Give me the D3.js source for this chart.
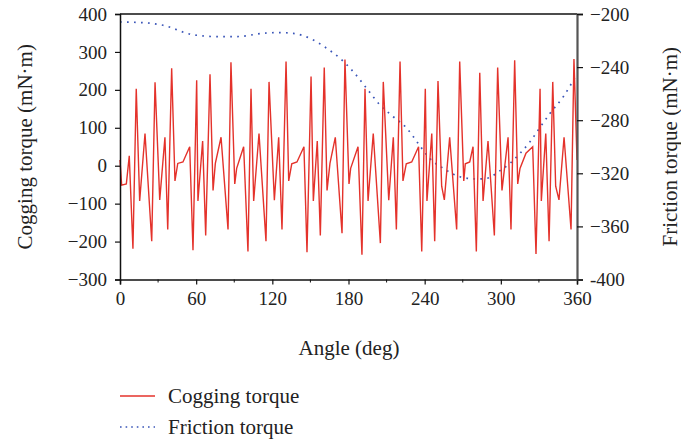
<!DOCTYPE html>
<html>
<head>
<meta charset="utf-8">
<script src="https://cdn.jsdelivr.net/npm/d3@7"></script>
<style>
  body { margin: 0; background: #fff; }
  svg text { font-family: "Liberation Serif", "DejaVu Serif", serif; fill: #222; }
</style>
</head>
<body>
<svg id="chart"></svg>
<script>
// cogging torque (deg, mN·m)
const coggingAngle = [0,1.3,5,7.3,10.2,12.8,15.5,19.7,25,27.6,31.3,35.4,37.6,40.7,43.3,45.5,49.6,54.9,57.5,60.4,61.4,65.1,67.5,70.9,73.3,75.1,79.6,85.1,87.4,90.4,91.9,97.4,100.8,103.2,105.3,109.5,115,117.4,121.6,125,127.6,130.8,132.9,135.3,139.4,144.9,147.3,150.5,152.3,155.4,157.8,160.9,163.1,165.4,169.6,174.9,177.2,180.4,181.7,187.5,190.6,193,195.4,199.5,205.1,207.4,211.7,215.3,217.7,220.6,222.9,225.5,229.8,235.2,237.7,240.5,241.8,245.6,247.9,250.5,253.4,255.5,259.7,265.2,267.6,270.8,272,275.5,278.1,280.7,283.4,286,289.9,294.9,297.5,300.9,305.7,308,310.9,313.3,315.1,319.8,325.1,327.7,330.9,331.9,335.4,338,340.9,343.2,345.8,349.8,355.3,357.6,360];
const coggingValue = [15,-51,-48,26,-219,203,-93,85,-199,220,-90,75,-168,257,-40,6,10,50,-223,225,-93,65,-184,241,-65,6,75,-168,273,-48,-7,50,-226,203,-93,85,-199,221,-91,75,-168,275,-40,5,10,50,-228,235,-93,65,-184,259,-65,6,75,-178,280,-48,-7,50,-235,203,-93,85,-204,221,-91,75,-168,275,-40,5,10,50,-226,203,-93,85,-199,223,-54,-90,75,-168,275,-40,5,10,50,-226,245,-93,65,-184,259,-65,75,-168,278,-48,-7,33,50,-233,203,-93,85,-199,221,-54,-90,75,-168,281,15];

// friction torque (right axis)
const frictionAngle = [0,18,34,57.5,78.8,92,115.6,126,136.5,152.3,162.8,173.3,183.8,194.3,204.8,215.3,225.9,236,244.2,254.7,267.8,281,288.9,299.4,307.2,315.1,323,330.9,338.8,349.2,360];
const frictionValue = [-206,-206.5,-208.5,-215.6,-217.1,-217,-214.3,-214,-214.6,-219.6,-225.8,-233.4,-243.5,-256,-268.5,-277.4,-286,-299,-309,-316.3,-322.6,-324.3,-323.8,-318,-312.5,-305,-296.2,-285.4,-274.8,-262.3,-245];

const xTicks = [0,60,120,180,240,300,360];
const leftTicks = [-300,-200,-100,0,100,200,300,400];
const rightTicks = [-400,-360,-320,-280,-240,-200];

const W = 681, H = 441;
const margin = {left:120, right:104, top:14, bottom:161.5};
const red = "#e4322b", blue = "#3a55b8";

const svg = d3.select("#chart").attr("width",W).attr("height",H);

const x = d3.scaleLinear().domain([0,360]).range([margin.left, W-margin.right]);
const yL = d3.scaleLinear().domain([-300,400]).range([H-margin.bottom, margin.top]);
const yR = d3.scaleLinear().domain([-400,-200]).range([H-margin.bottom, margin.top]);

const cogging = coggingAngle.map((a,i)=>({a:a, v:coggingValue[i]}));
const friction = frictionAngle.map((a,i)=>({a:a, v:frictionValue[i]}));

// frame top line
svg.append("line")
  .attr("x1",x(0)).attr("x2",x(360))
  .attr("y1",margin.top).attr("y2",margin.top)
  .attr("stroke","#111").attr("stroke-width",1.5);

// series
svg.append("path")
  .datum(friction)
  .attr("fill","none")
  .attr("stroke",blue)
  .attr("stroke-width",1.7)
  .attr("stroke-dasharray","1.7,5.3")
  .attr("d", d3.line().x(d=>x(d.a)).y(d=>yR(d.v)).curve(d3.curveMonotoneX));

svg.append("path")
  .datum(cogging)
  .attr("fill","none")
  .attr("stroke",red)
  .attr("stroke-width",1.4)
  .attr("d", d3.line().x(d=>x(d.a)).y(d=>yL(d.v)));

// axes
const fs = "19px";
const gx = svg.append("g")
  .attr("transform",`translate(0,${H-margin.bottom})`)
  .call(d3.axisBottom(x).tickValues(xTicks).tickSize(5).tickPadding(7).tickFormat(d3.format("d")));
gx.append("g").selectAll("line")
  .data([30,90,150,210,270,330])
  .join("line")
  .attr("x1",d=>x(d)).attr("x2",d=>x(d))
  .attr("y1",0).attr("y2",3)
  .attr("stroke","#111");

const gl = svg.append("g")
  .attr("transform",`translate(${margin.left},0)`)
  .call(d3.axisLeft(yL).tickValues(leftTicks).tickSize(5).tickPadding(8));

const gr = svg.append("g")
  .attr("transform",`translate(${W-margin.right},0)`)
  .call(d3.axisRight(yR).tickValues(rightTicks).tickSize(6).tickPadding(7)
    .tickFormat(d => d === -400 ? "-400" : d3.format("d")(d)));

[gx,gl,gr].forEach(g=>{
  g.select(".domain").attr("stroke","#111").attr("stroke-width",1.5);
  g.selectAll(".tick line").attr("stroke","#111").attr("stroke-width",1.2);
  g.selectAll("text").style("font-size",fs).attr("fill","#222")
    .style("font-family","'Liberation Serif', serif");
});
gr.select(".domain").attr("stroke","#555").attr("stroke-width",2.2);

// axis titles
const titleSize = "21px";
svg.append("text")
  .attr("x",349).attr("y",355)
  .attr("text-anchor","middle")
  .style("font-size",titleSize)
  .text("Angle (deg)");

svg.append("text")
  .attr("transform",`translate(32,${(margin.top+H-margin.bottom)/2}) rotate(-90)`)
  .attr("text-anchor","middle")
  .style("font-size",titleSize)
  .text("Cogging torque (mN·m)");

svg.append("text")
  .attr("transform",`translate(677,${(margin.top+H-margin.bottom)/2}) rotate(-90)`)
  .attr("text-anchor","middle")
  .style("font-size",titleSize)
  .text("Friction torque (mN·m)");

// legend
const legend = svg.append("g");
const items = [
  {name:"Cogging torque", color:red, dash:null, y:396},
  {name:"Friction torque", color:blue, dash:"1.6,4", y:427}
];
items.forEach(it=>{
  legend.append("line")
    .attr("x1",120).attr("x2",155)
    .attr("y1",it.y).attr("y2",it.y)
    .attr("stroke",it.color).attr("stroke-width",1.4)
    .attr("stroke-dasharray",it.dash);
  legend.append("text")
    .attr("x",168).attr("y",it.y)
    .attr("dy","0.35em")
    .style("font-size",titleSize)
    .text(it.name);
});
</script>
</body>
</html>
